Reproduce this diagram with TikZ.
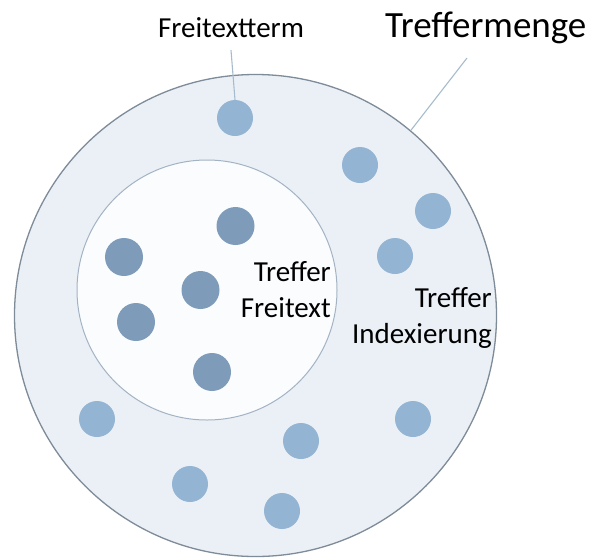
\documentclass[tikz,border=0pt]{standalone}
\usepackage{fontspec}
\setmainfont{Carlito}
\definecolor{ringfill}{HTML}{EBF0F6}
\definecolor{ringline}{HTML}{7E8B98}
\definecolor{innerfill}{HTML}{FAFCFE}
\definecolor{innerline}{HTML}{A3B3C3}
\definecolor{lightblue}{HTML}{93B4D2}
\definecolor{darkblue}{HTML}{7E9CBA}
\definecolor{leadercol}{HTML}{A6BCCE}
\begin{document}
\begin{tikzpicture}[x=1pt,y=-1pt,
  ring/.style={circle, draw=ringline, line width=1.3pt, fill=ringfill, inner sep=0pt},
  innerset/.style={circle, draw=innerline, line width=1pt, fill=innerfill, inner sep=0pt},
  lightdot/.style={circle, fill=lightblue, minimum size=36pt, inner sep=0pt},
  darkdot/.style={circle, fill=darkblue, minimum size=38pt, inner sep=0pt},
  leader/.style={draw=leadercol, line width=1.1pt},
  lbl/.style={font=\fontsize{29}{36}\selectfont, inner sep=0pt, align=right},
  bigbl/.style={font=\fontsize{37}{44}\selectfont, inner sep=0pt},
]
\useasboundingbox (0,0) rectangle (600,558);
\fill[white] (0,0) rectangle (600,558);
% sets
\node[ring, minimum size=482pt] (outer) at (255.5,315.5) {};
\node[innerset, minimum size=260pt] (innerc) at (207,290) {};
% light dots (Treffer Indexierung)
\node[lightdot] (l1) at (235,118) {};
\node[lightdot] (l2) at (360,165) {};
\node[lightdot] (l3) at (433,211) {};
\node[lightdot] (l4) at (395,256) {};
\node[lightdot] (l5) at (97,419) {};
\node[lightdot] (l6) at (301,441) {};
\node[lightdot] (l7) at (413,419) {};
\node[lightdot] (l8) at (190,484) {};
\node[lightdot] (l9) at (282,511) {};
% dark dots (Treffer Freitext)
\node[darkdot] (d1) at (235.5,226) {};
\node[darkdot] (d2) at (124,257) {};
\node[darkdot] (d3) at (200.5,290) {};
\node[darkdot] (d4) at (136,322) {};
\node[darkdot] (d5) at (212,372) {};
% labels
\node[lbl, anchor=base, outer ysep=13pt] (ft) at (231,37) {Freitextterm};
\node[bigbl, anchor=base west] (tm) at (385,37) {Treffermenge};
\node[lbl, anchor=base east] (tf) at (331,317) {Treffer\\Freitext};
\node[lbl, anchor=base east] (ti) at (492,343) {Treffer\\Indexierung};
% leaders
\coordinate (tmfoot) at (467,58);
\draw[leader] (ft.south) -- (l1.north);
\draw[leader] (tmfoot) -- (outer.50.5);
\end{tikzpicture}
\end{document}
